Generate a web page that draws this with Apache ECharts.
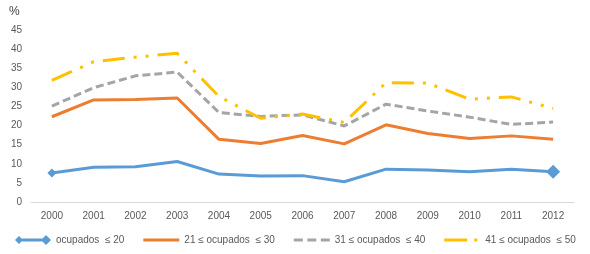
<!DOCTYPE html>
<html>
<head>
<meta charset="utf-8">
<script src="https://cdn.jsdelivr.net/npm/echarts@6/dist/echarts.min.js"></script>
<style>
  html, body { margin: 0; padding: 0; background: #fff; }
  #chart { width: 590px; height: 254px; }
</style>
</head>
<body>
<div id="chart"></div>
<script>
// Years on the x axis
const years = ['2000', '2001', '2002', '2003', '2004', '2005', '2006', '2007', '2008', '2009', '2010', '2011', '2012'];

// Series values (%)
const upTo20 = [7.6, 9.1, 9.2, 10.6, 7.3, 6.8, 6.9, 5.3, 8.6, 8.4, 7.9, 8.6, 7.9];
const from21to30 = [22.3, 26.7, 26.8, 27.2, 16.4, 15.3, 17.4, 15.2, 20.2, 17.9, 16.6, 17.3, 16.4];
const from31to40 = [25.1, 29.9, 33.0, 34.0, 23.4, 22.4, 22.8, 19.9, 25.6, 23.8, 22.2, 20.3, 20.9];
const from41to50 = [31.8, 36.7, 37.9, 38.9, 27.6, 21.9, 23.0, 20.8, 31.2, 31.1, 26.9, 27.5, 24.5];

const seriesNames = ['ocupados  \u2264 20', '21 \u2264 ocupados  \u2264 30', '31 \u2264 ocupados  \u2264 40', '41 \u2264 ocupados  \u2264 50'];

const chart = echarts.init(document.getElementById('chart'));

const font = 'Liberation Sans';
const textColor = '#595959';

// blue series only shows diamonds at the first and last point
const blueData = upTo20.map((v, i) => {
  if (i === 0) return { value: v, symbol: 'diamond', symbolSize: 9 };
  if (i === upTo20.length - 1) return { value: v, symbol: 'diamond', symbolSize: 14 };
  return { value: v, symbol: 'none' };
});

// legend icons drawn in a 36x12 box, tiny corner anchors keep the box size
const anchors = ' M0,0L0.01,0L0,0.01Z M36,12L35.99,12L36,11.99Z';
const blueIcon = 'path://M0,6L4,2L8,6L4,10Z M4,4.6L31,4.6L31,7.4L4,7.4Z M26,6L31,1L36,6L31,11Z' + anchors;
const orangeIcon = 'path://M0,4.5L36,4.5L36,7.5L0,7.5Z' + anchors;
const grayIcon = 'path://M0,4.5L9,4.5L9,7.5L0,7.5Z M13.5,4.5L22.5,4.5L22.5,7.5L13.5,7.5Z M27,4.5L36,4.5L36,7.5L27,7.5Z' + anchors;
const yellowIcon = 'path://M0,4.5L23,4.5L23,7.5L0,7.5Z M30,4.5L33,4.5L33,7.5L30,7.5Z' + anchors;

chart.setOption({
  animation: false,
  grid: { left: 31, right: 16, top: 30, bottom: 52 },
  title: {
    text: '%',
    left: 4,
    top: 1,
    textStyle: { fontFamily: font, fontSize: 12, fontWeight: 'normal', color: '#404040' }
  },
  legend: {
    top: 234,
    left: 15,
    width: 575,
    padding: 0,
    itemWidth: 36,
    itemHeight: 12,
    itemGap: 19,
    symbolKeepAspect: false,
    textStyle: { fontFamily: font, fontSize: 10, color: textColor },
    data: [
      { name: seriesNames[0], icon: blueIcon },
      { name: seriesNames[1], icon: orangeIcon },
      { name: seriesNames[2], icon: grayIcon },
      { name: seriesNames[3], icon: yellowIcon }
    ]
  },
  xAxis: {
    type: 'category',
    data: years,
    boundaryGap: true,
    axisLine: { lineStyle: { color: '#d9d9d9', width: 1 } },
    axisTick: { show: false },
    axisLabel: { fontFamily: font, fontSize: 10, color: textColor, margin: 9 }
  },
  yAxis: {
    type: 'value',
    min: 0,
    max: 45,
    interval: 5,
    splitLine: { show: false },
    axisLine: { show: false },
    axisTick: { show: false },
    axisLabel: { fontFamily: font, fontSize: 10, color: textColor, margin: 9 }
  },
  series: [
    {
      name: seriesNames[0],
      type: 'line',
      data: blueData,
      color: '#5b9bd5',
      lineStyle: { width: 3, color: '#5b9bd5' },
      itemStyle: { color: '#5b9bd5' }
    },
    {
      name: seriesNames[1],
      type: 'line',
      data: from21to30,
      color: '#ed7d31',
      symbol: 'none',
      lineStyle: { width: 3, color: '#ed7d31' }
    },
    {
      name: seriesNames[2],
      type: 'line',
      data: from31to40,
      color: '#a5a5a5',
      symbol: 'none',
      lineStyle: { width: 3, color: '#a5a5a5', type: [8, 4] }
    },
    {
      name: seriesNames[3],
      type: 'line',
      data: from41to50,
      color: '#ffc000',
      symbol: 'none',
      lineStyle: { width: 3, color: '#ffc000', type: [22, 9, 3, 9, 3, 9] }
    }
  ]
});
</script>
</body>
</html>
